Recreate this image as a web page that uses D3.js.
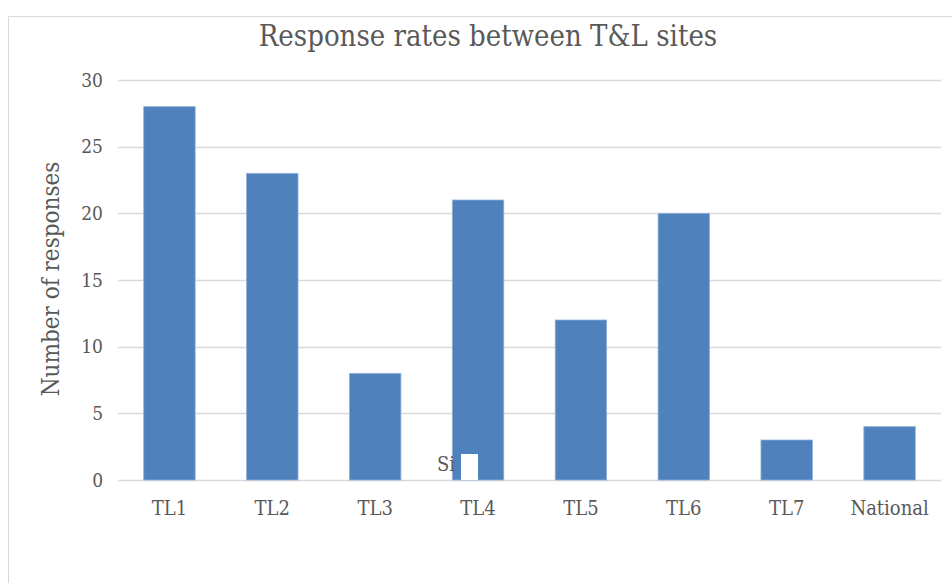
<!DOCTYPE html>
<html>
  <head>
    <script src="https://cdn.jsdelivr.net/npm/d3@7"></script>
    <style>
      body { margin: 0; background: white; }
      text { font-family: "DejaVu Serif Condensed", "Liberation Serif", serif; fill: #595959; }
    </style>
  </head>
  <body>
  <script>
    var sites = ["TL1", "TL2", "TL3", "TL4", "TL5", "TL6", "TL7", "National"];
    var responses = [28, 23, 8, 21, 12, 20, 3, 4];
    var yTicks = [0, 5, 10, 15, 20, 25, 30];

    var width = 952, height = 583;
    var plotLeft = 118, plotRight = 941, plotTop = 80, plotBottom = 480;

    var svg = d3.select("body").append("svg")
                .attr("width", width)
                .attr("height", height);

    // chart frame
    svg.append("path")
       .attr("d", "M8.5," + height + "V16.5H" + width)
       .attr("fill", "none")
       .attr("stroke", "#d9d9d9")
       .attr("stroke-width", 1);

    var x = d3.scaleBand().domain(sites).range([plotLeft, plotRight]).paddingInner(0.5).paddingOuter(0.25);
    var y = d3.scaleLinear().domain([0, 30]).range([plotBottom, plotTop]);

    // gridlines
    svg.selectAll(".grid")
       .data(yTicks)
       .enter().append("line")
        .attr("class", "grid")
        .attr("x1", plotLeft)
        .attr("x2", plotRight)
        .attr("y1", function(d) { return Math.round(y(d)) + 0.5; })
        .attr("y2", function(d) { return Math.round(y(d)) + 0.5; })
        .attr("stroke", "#d9d9d9")
        .attr("stroke-width", 1.5);

    svg.selectAll(".bar")
       .data(responses)
       .enter().append("rect")
        .attr("class", "bar")
        .attr("x", function(d, i) { return x(sites[i]); })
        .attr("width", x.bandwidth())
        .attr("y", function(d) { return y(d); })
        .attr("height", function(d) { return y(0) - y(d); })
        .attr("fill", "#4f81bd")
        .attr("stroke", "#8fb0d8")
        .attr("stroke-width", 0.8);

    // y axis labels
    var yAxis = d3.axisLeft(y).tickValues(yTicks).tickSize(0).tickPadding(0);
    var gy = svg.append("g").attr("transform", "translate(103,0)").call(yAxis);
    gy.select(".domain").remove();
    gy.selectAll("text").style("font-size", "19px").attr("fill", "#595959")
      .style("font-family", "'DejaVu Serif Condensed', serif");

    // x axis labels
    var xAxis = d3.axisBottom(x).tickSize(0).tickPadding(0);
    var gx = svg.append("g").attr("transform", "translate(0,501)").call(xAxis);
    gx.select(".domain").remove();
    gx.selectAll("text").style("font-size", "20px").attr("fill", "#595959")
      .style("font-family", "'DejaVu Serif Condensed', serif");

    // truncated axis title, half hidden in the original
    svg.append("text")
       .attr("x", 437)
       .attr("y", 471)
       .style("font-size", "20px")
       .text("Si");
    svg.append("rect")
       .attr("x", 461).attr("y", 454)
       .attr("width", 17).attr("height", 26)
       .attr("fill", "white");

    svg.append("text")
       .attr("x", 488)
       .attr("y", 46)
       .attr("text-anchor", "middle")
       .style("font-size", "29px")
       .text("Response rates between T&L sites");

    svg.append("text")
       .attr("transform", "translate(59,279) rotate(-90)")
       .attr("text-anchor", "middle")
       .style("font-size", "24px")
       .text("Number of responses");
  </script>
</body>
</html>
